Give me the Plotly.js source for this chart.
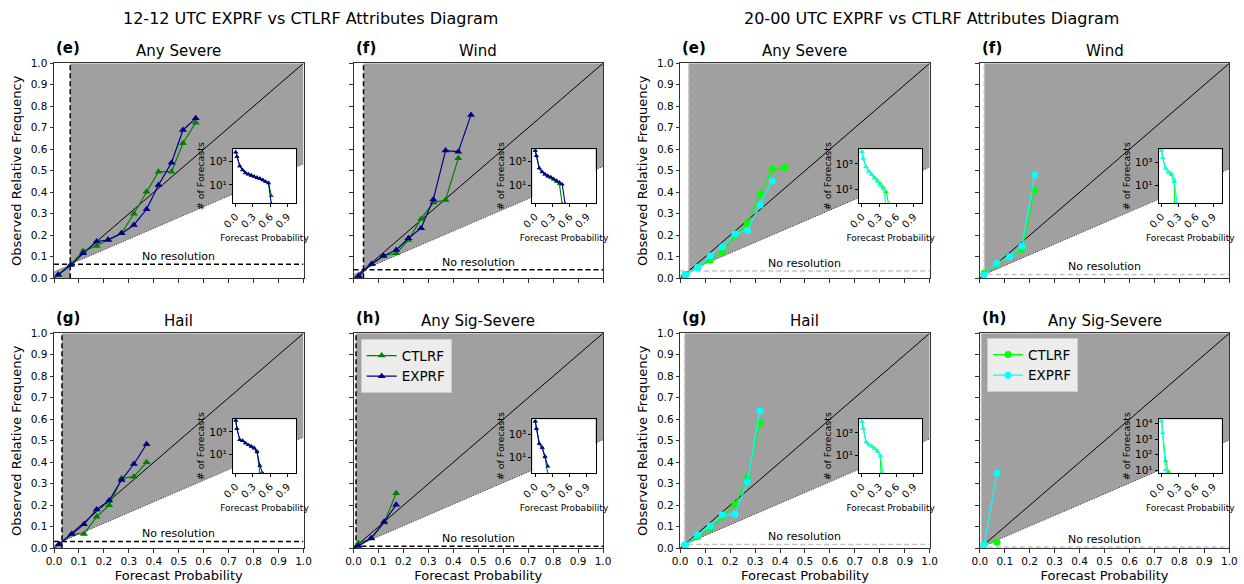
<!DOCTYPE html>
<html><head><meta charset="utf-8">
<script src="https://cdn.plot.ly/plotly-3.0.1.min.js"></script>
<style>html,body{margin:0;padding:0;background:#fff}</style>
</head><body><div id="chart" style="width:1244px;height:584px"></div>
<script>
// ---------------- DATA ----------------
const groupTitles = ["12-12 UTC EXPRF vs CTLRF Attributes Diagram", "20-00 UTC EXPRF vs CTLRF Attributes Diagram"];
const panelLabels = ["(e)", "(f)", "(g)", "(h)"];
const panelTitles = ["Any Severe", "Wind", "Hail", "Any Sig-Severe"];
const seriesNames = ["CTLRF", "EXPRF"];
const probTicks = [0, 0.1, 0.2, 0.3, 0.4, 0.5, 0.6, 0.7, 0.8, 0.9, 1.0];
const insetProbTicks = [0, 0.3, 0.6, 0.9];

// climatology (no-resolution) frequency per panel
const climLeft = [0.065, 0.04, 0.032, 0.01];
const climRight = [0.034, 0.018, 0.018, 0.006];

// ---- 12-12 UTC ----
const L_e_ctl_x = [0.017,0.068,0.117,0.171,0.217,0.271,0.32,0.371,0.419,0.471,0.517,0.568];
const L_e_ctl_y = [0.016,0.065,0.127,0.15,0.18,0.21,0.30,0.403,0.496,0.496,0.628,0.724];
const L_e_exp_x = [0.017,0.068,0.117,0.171,0.217,0.271,0.32,0.371,0.419,0.471,0.517,0.568];
const L_e_exp_y = [0.016,0.062,0.116,0.171,0.178,0.209,0.248,0.321,0.434,0.538,0.69,0.744];

const L_f_ctl_x = [0.02,0.073,0.12,0.171,0.22,0.271,0.32,0.369,0.42];
const L_f_ctl_y = [0.011,0.067,0.105,0.116,0.178,0.276,0.352,0.364,0.558];
const L_f_exp_x = [0.02,0.073,0.12,0.171,0.22,0.271,0.32,0.369,0.42,0.471];
const L_f_exp_y = [0.011,0.067,0.104,0.132,0.186,0.233,0.367,0.594,0.589,0.76];

const L_g_ctl_x = [0.02,0.071,0.12,0.171,0.221,0.271,0.32,0.371];
const L_g_ctl_y = [0.019,0.067,0.067,0.147,0.2,0.326,0.333,0.4];
const L_g_exp_x = [0.02,0.071,0.12,0.171,0.221,0.271,0.32,0.371];
const L_g_exp_y = [0.019,0.067,0.112,0.181,0.222,0.318,0.392,0.484];

const L_h_ctl_x = [0.02,0.071,0.123,0.171];
const L_h_ctl_y = [0.023,0.045,0.12,0.256];
const L_h_exp_x = [0.02,0.071,0.123,0.171];
const L_h_exp_y = [0.011,0.047,0.124,0.202];

// ---- 20-00 UTC ----
const R_e_ctl_x = [0.02,0.069,0.12,0.169,0.22,0.269,0.32,0.369,0.42];
const R_e_ctl_y = [0.016,0.05,0.085,0.124,0.2,0.256,0.392,0.507,0.515];
const R_e_exp_x = [0.02,0.069,0.12,0.169,0.22,0.269,0.32,0.369];
const R_e_exp_y = [0.016,0.05,0.104,0.147,0.206,0.222,0.341,0.454];

const R_f_ctl_x = [0.017,0.067,0.12,0.169,0.22];
const R_f_ctl_y = [0.023,0.067,0.1,0.135,0.411];
const R_f_exp_x = [0.017,0.067,0.12,0.169,0.22];
const R_f_exp_y = [0.016,0.07,0.1,0.15,0.481];

const R_g_ctl_x = [0.02,0.069,0.12,0.169,0.22,0.269,0.32];
const R_g_ctl_y = [0.016,0.054,0.093,0.147,0.205,0.326,0.584];
const R_g_exp_x = [0.02,0.069,0.12,0.169,0.22,0.269,0.32];
const R_g_exp_y = [0.016,0.062,0.104,0.155,0.158,0.31,0.64];

const R_h_ctl_x = [0.017,0.069];
const R_h_ctl_y = [0.019,0.028];
const R_h_exp_x = [0.017,0.069];
const R_h_exp_y = [0.016,0.349];

// ---- inset histograms: # of forecasts per probability bin ----
const L_e_hist_ctl_x = [0,0.02,0.07,0.12,0.17,0.22,0.27,0.32,0.37,0.42,0.47,0.52,0.57,0.62];
const L_e_hist_ctl_n = [6300,2500,400,190,110,85,70,55,45,35,25,18,16,1.2];
const L_e_hist_exp_x = [0,0.02,0.07,0.12,0.17,0.22,0.27,0.32,0.37,0.42,0.47,0.52,0.57,0.62];
const L_e_hist_exp_n = [6300,2500,400,180,100,80,63,50,40,35,28,20,14,0.25];

const L_f_hist_ctl_x = [0,0.02,0.07,0.12,0.17,0.22,0.27,0.32,0.37,0.42,0.47];
const L_f_hist_ctl_n = [9000,3200,280,130,80,55,42,30,20,13,0.25];
const L_f_hist_exp_x = [0,0.02,0.07,0.12,0.17,0.22,0.27,0.32,0.37,0.42,0.47,0.52];
const L_f_hist_exp_n = [9000,3200,280,140,90,63,50,35,25,18,12,0.25];

const L_g_hist_ctl_x = [0,0.02,0.07,0.12,0.17,0.22,0.27,0.32,0.37,0.42];
const L_g_hist_ctl_n = [11000,2000,200,160,100,70,55,40,20,0.2];
const L_g_hist_exp_x = [0,0.02,0.07,0.12,0.17,0.22,0.27,0.32,0.37,0.42,0.47];
const L_g_hist_exp_n = [11000,2000,200,160,100,70,50,35,16,1,0.2];

const L_h_hist_ctl_x = [0,0.02,0.07,0.12,0.17,0.22];
const L_h_hist_ctl_n = [14000,3200,150,68,10,0.3];
const L_h_hist_exp_x = [0,0.02,0.07,0.12,0.17,0.22];
const L_h_hist_exp_n = [14000,3200,150,68,11.5,1.5];

const R_e_hist_ctl_x = [0,0.02,0.07,0.12,0.17,0.22,0.27,0.32,0.37,0.42,0.47];
const R_e_hist_ctl_n = [9300,2800,600,270,150,85,50,28,14,6,0.5];
const R_e_hist_exp_x = [0,0.02,0.07,0.12,0.17,0.22,0.27,0.32,0.37,0.42];
const R_e_hist_exp_n = [9300,2800,600,250,135,70,40,20,10,0.5];

const R_f_hist_ctl_x = [0,0.02,0.07,0.12,0.17,0.22,0.23];
const R_f_hist_ctl_n = [11000,2500,300,130,80,20,0.25];
const R_f_hist_exp_x = [0,0.02,0.07,0.12,0.17,0.22,0.27];
const R_f_hist_exp_n = [11000,2500,300,150,110,30,0.25];

const R_g_hist_ctl_x = [0,0.02,0.07,0.12,0.17,0.22,0.27,0.32,0.33];
const R_g_hist_ctl_n = [10000,2500,160,90,70,45,25,10,0.25];
const R_g_hist_exp_x = [0,0.02,0.07,0.12,0.17,0.22,0.27,0.32,0.37];
const R_g_hist_exp_n = [10000,2500,160,85,63,40,22,10,0.25];

const R_h_hist_ctl_x = [0,0.02,0.07,0.12];
const R_h_hist_ctl_n = [14000,2500,40,8];
const R_h_hist_exp_x = [0,0.02,0.07];
const R_h_hist_exp_n = [14000,2500,11];

// inset log10 y-ranges and ticks
const insetLogRange = [[-0.54,4.03],[-0.52,4.06],[-0.67,4.13],[-0.41,4.32],[-0.1,4.16],[-0.58,4.13],[-0.53,4.19],[0.83,4.27]];
const insetTicksStd = [10, 1000];
const insetTicksStdText = ["10\u00b9", "10\u00b3"];
const insetTicksSig = [10, 100, 1000, 10000];
const insetTicksSigText = ["10\u00b9", "10\u00b2", "10\u00b3", "10\u2074"];

// ---------------- LAYOUT GEOMETRY ----------------
const FW = 1244, FH = 584;
const colLeft = [54, 353.5, 680.2, 979.8];
const PW = 249.5, PH = 215;
const rowTop = [63.3, 333.3];
const FONT = "DejaVu Sans, Verdana, sans-serif";

const panels = [
  {grp:0, c:0, r:0, k:0, ctl:[L_e_ctl_x,L_e_ctl_y], exp:[L_e_exp_x,L_e_exp_y], hc:[L_e_hist_ctl_x,L_e_hist_ctl_n], he:[L_e_hist_exp_x,L_e_hist_exp_n], clim:climLeft[0]},
  {grp:0, c:1, r:0, k:1, ctl:[L_f_ctl_x,L_f_ctl_y], exp:[L_f_exp_x,L_f_exp_y], hc:[L_f_hist_ctl_x,L_f_hist_ctl_n], he:[L_f_hist_exp_x,L_f_hist_exp_n], clim:climLeft[1]},
  {grp:0, c:0, r:1, k:2, ctl:[L_g_ctl_x,L_g_ctl_y], exp:[L_g_exp_x,L_g_exp_y], hc:[L_g_hist_ctl_x,L_g_hist_ctl_n], he:[L_g_hist_exp_x,L_g_hist_exp_n], clim:climLeft[2]},
  {grp:0, c:1, r:1, k:3, ctl:[L_h_ctl_x,L_h_ctl_y], exp:[L_h_exp_x,L_h_exp_y], hc:[L_h_hist_ctl_x,L_h_hist_ctl_n], he:[L_h_hist_exp_x,L_h_hist_exp_n], clim:climLeft[3]},
  {grp:1, c:2, r:0, k:0, ctl:[R_e_ctl_x,R_e_ctl_y], exp:[R_e_exp_x,R_e_exp_y], hc:[R_e_hist_ctl_x,R_e_hist_ctl_n], he:[R_e_hist_exp_x,R_e_hist_exp_n], clim:climRight[0]},
  {grp:1, c:3, r:0, k:1, ctl:[R_f_ctl_x,R_f_ctl_y], exp:[R_f_exp_x,R_f_exp_y], hc:[R_f_hist_ctl_x,R_f_hist_ctl_n], he:[R_f_hist_exp_x,R_f_hist_exp_n], clim:climRight[1]},
  {grp:1, c:2, r:1, k:2, ctl:[R_g_ctl_x,R_g_ctl_y], exp:[R_g_exp_x,R_g_exp_y], hc:[R_g_hist_ctl_x,R_g_hist_ctl_n], he:[R_g_hist_exp_x,R_g_hist_exp_n], clim:climRight[2]},
  {grp:1, c:3, r:1, k:3, ctl:[R_h_ctl_x,R_h_ctl_y], exp:[R_h_exp_x,R_h_exp_y], hc:[R_h_hist_ctl_x,R_h_hist_ctl_n], he:[R_h_hist_exp_x,R_h_hist_exp_n], clim:climRight[3]}
];

const styles = [
  {ctl:"#008000", exp:"#00008b", sym:"triangle-up", refl:"#000000"},
  {ctl:"#00ff00", exp:"#00ffff", sym:"circle", refl:"#c4c4c4"}
];
const SHADE = "#a0a0a0";
const SPINE = "#333333";

const px2x = p => p / FW;
const px2y = p => 1 - p / FH;

const traces = [];
const layout = {
  width: FW, height: FH,
  margin: {l:0, r:0, t:0, b:0},
  paper_bgcolor: "#ffffff", plot_bgcolor: "#ffffff",
  font: {family: FONT, color: "#000", size: 10},
  showlegend: true,
  shapes: [], annotations: []
};

panels.forEach((p, i) => {
  const n = i + 1, m = i + 9;
  const st = styles[p.grp];
  const L = colLeft[p.c], T = rowTop[p.r];
  const leftCol = (p.c === 0 || p.c === 2), bottomRow = p.r === 1;
  const isSig = p.k === 3;
  const legendId = p.grp === 0 ? "legend" : "legend2";

  // main curves
  traces.push({x:p.ctl[0], y:p.ctl[1], xaxis:"x"+n, yaxis:"y"+n, type:"scatter", mode:"lines+markers",
    name:seriesNames[0], showlegend:isSig, legend:legendId,
    line:{color:st.ctl, width:1.2}, marker:{symbol:st.sym, size:7, color:st.ctl}, hoverinfo:"skip"});
  traces.push({x:p.exp[0], y:p.exp[1], xaxis:"x"+n, yaxis:"y"+n, type:"scatter", mode:"lines+markers",
    name:seriesNames[1], showlegend:isSig, legend:legendId,
    line:{color:st.exp, width:1.2}, marker:{symbol:st.sym, size:7, color:st.exp}, hoverinfo:"skip"});
  // inset histograms
  traces.push({x:p.hc[0], y:p.hc[1], xaxis:"x"+m, yaxis:"y"+m, type:"scatter", mode:"lines+markers", showlegend:false,
    line:{color:st.ctl, width:1.1}, marker:{symbol:"triangle-up", size:4.5, color:st.ctl}, hoverinfo:"skip"});
  traces.push({x:p.he[0], y:p.he[1], xaxis:"x"+m, yaxis:"y"+m, type:"scatter", mode:"lines+markers", showlegend:false,
    line:{color:st.exp, width:1.1}, marker:{symbol:"triangle-up", size:4.5, color:st.exp}, hoverinfo:"skip"});

  const axBase = {showgrid:false, zeroline:false, showline:true, mirror:true, linecolor:SPINE, linewidth:1,
    ticks:"outside", ticklen:3.5, tickwidth:1, tickcolor:SPINE, fixedrange:true};
  const xa = Object.assign({}, axBase, {
    domain:[px2x(L), px2x(L+PW)], range:[0,1], anchor:"y"+n,
    tickvals:probTicks, tickformat:".1f", showticklabels:bottomRow, tickfont:{size:10.5}
  });
  if (bottomRow) xa.title = {text:"Forecast Probability", font:{size:13}, standoff:4};
  layout["xaxis"+n] = xa;
  const ya = Object.assign({}, axBase, {
    domain:[px2y(T+PH), px2y(T)], range:[0,1], anchor:"x"+n,
    tickvals:probTicks, tickformat:".1f", showticklabels:leftCol, tickfont:{size:10.5}
  });
  if (leftCol) ya.title = {text:"Observed Relative Frequency", font:{size:13}, standoff:6};
  layout["yaxis"+n] = ya;

  // inset axes
  const iL = L + 0.717*PW, iR = L + 0.97*PW, iT = T + 0.4*PH, iB = T + 0.65*PH;
  const sigInset = (p.grp === 1 && isSig);
  layout["xaxis"+m] = Object.assign({}, axBase, {
    domain:[px2x(iL), px2x(iR)], range:[-0.05,1.05], anchor:"y"+m, linecolor:"#000", tickcolor:"#000", ticklen:3,
    tickvals:insetProbTicks, tickformat:".1f", tickangle:-45, tickfont:{size:10},
    title:{text:"Forecast Probability", font:{size:9}, standoff:5}
  });
  layout["yaxis"+m] = Object.assign({}, axBase, {
    domain:[px2y(iB), px2y(iT)], type:"log", range:insetLogRange[i], anchor:"x"+m, linecolor:"#000", tickcolor:"#000", ticklen:3,
    tickvals: sigInset ? insetTicksSig : insetTicksStd, ticktext: sigInset ? insetTicksSigText : insetTicksStdText,
    tickfont:{size:10.5},
    title:{text:"# of Forecasts", font:{size:9.5}, standoff:2}
  });

  // attributes-diagram regions and reference lines
  const c = p.clim, xr = "x"+n, yr = "y"+n;
  layout.shapes.push({type:"path", xref:xr, yref:yr, layer:"below", fillcolor:SHADE, line:{width:0},
    path:`M ${c},${c} L 1,${(1+c)/2} L 1,1 L ${c},1 Z`});
  layout.shapes.push({type:"path", xref:xr, yref:yr, layer:"below", fillcolor:SHADE, line:{width:0},
    path:`M 0,0 L ${c},0 L ${c},${c} L 0,${c/2} Z`});
  layout.shapes.push({type:"line", xref:xr, yref:yr, layer:"below", x0:0, y0:0, x1:1, y1:1, line:{color:"#000", width:1}});
  layout.shapes.push({type:"line", xref:xr, yref:yr, layer:"below", x0:c, y0:c, x1:1, y1:(1+c)/2, line:{color:"#222", width:0.9, dash:"1px,1.5px"}});
  layout.shapes.push({type:"line", xref:xr, yref:yr, layer:"below", x0:0, y0:c, x1:1, y1:c, line:{color:st.refl, width:1.5, dash:"5px,3px"}});
  layout.shapes.push({type:"line", xref:xr, yref:yr, layer:"below", x0:c, y0:0, x1:c, y1:1, line:{color:st.refl, width:1.5, dash:"5px,3px"}});

  layout.annotations.push({text:"No resolution", xref:xr, yref:yr, x:0.5, y:c, xanchor:"center", yanchor:"bottom", yshift:-1,
    showarrow:false, font:{size:11}});
  layout.annotations.push({text:panelTitles[p.k], xref:"paper", yref:"paper", x:px2x(L+PW/2), y:px2y(T-12.5),
    xanchor:"center", yanchor:"middle", showarrow:false, font:{size:15}});
  layout.annotations.push({text:"<b>"+panelLabels[p.k]+"</b>", xref:"paper", yref:"paper", x:px2x(L), y:px2y(T-15),
    xanchor:"left", yanchor:"middle", showarrow:false, font:{size:15}});
});

layout.annotations.push({text:groupTitles[0], xref:"paper", yref:"paper", x:px2x(310), y:px2y(18), xanchor:"center", yanchor:"middle", showarrow:false, font:{size:16}});
layout.annotations.push({text:groupTitles[1], xref:"paper", yref:"paper", x:px2x(932), y:px2y(18), xanchor:"center", yanchor:"middle", showarrow:false, font:{size:16}});

const legBase = {xanchor:"left", yanchor:"top", bgcolor:"#ececec", bordercolor:"#cccccc", borderwidth:1, font:{size:13.5}, tracegroupgap:0};
layout.legend = Object.assign({}, legBase, {x:px2x(360.7), y:px2y(339.3)});
layout.legend2 = Object.assign({}, legBase, {x:px2x(987), y:px2y(338.3)});

Plotly.newPlot("chart", traces, layout, {staticPlot:true, displayModeBar:false});
</script></body></html>
